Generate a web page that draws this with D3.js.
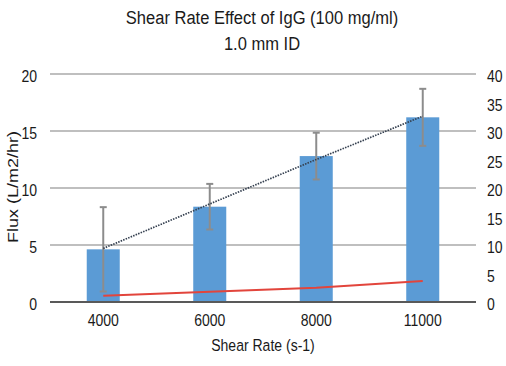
<!DOCTYPE html>
<html><head><meta charset="utf-8">
<script src="https://cdn.jsdelivr.net/npm/d3@7"></script>
<style>
html,body{margin:0;padding:0;background:#fff;}
text{font-family:"Liberation Sans",Arial,sans-serif;fill:#1a1a1a;}
</style></head>
<body><svg id="c" width="506" height="366"></svg>
<script>
const categories = ["4000", "6000", "8000", "11000"];
const flux = [4.62, 8.36, 12.8, 16.2];
const fluxErr = [3.7, 2.0, 2.05, 2.5];
const trend = [4.7, 8.6, 12.5, 16.3];
const secondary = [1.1, 1.8, 2.5, 3.7];
const leftTicks = [0, 5, 10, 15, 20];
const rightTicks = [0, 5, 10, 15, 20, 25, 30, 35, 40];
const titleLines = ["Shear Rate Effect of IgG (100 mg/ml)", "1.0 mm ID"];

const svg = d3.select("#c");
const L = 50, R = 476, T = 74, B = 302;
const x = d3.scaleBand().domain(categories).range([L, R]).paddingInner(0.69).paddingOuter(0.345);
const y = d3.scaleLinear().domain([0, 20]).range([B, T]);
const y2 = d3.scaleLinear().domain([0, 40]).range([B, T]);
const cx = c => x(c) + x.bandwidth() / 2;
const SX = 0.85;
const FONT = "Liberation Sans, Arial, sans-serif";

// gridlines
svg.append("g").selectAll("line").data(leftTicks.filter(d => d > 0)).join("line")
  .attr("x1", L).attr("x2", R).attr("y1", d => y(d)).attr("y2", d => y(d))
  .attr("stroke", "#bfbfbf").attr("stroke-width", 2);

// bars
svg.append("g").selectAll("rect").data(flux).join("rect")
  .attr("x", (d, i) => x(categories[i])).attr("width", x.bandwidth())
  .attr("y", d => y(d)).attr("height", d => y(0) - y(d))
  .attr("fill", "#5b9bd5");

// zero axis line
svg.append("line").attr("x1", L).attr("x2", R).attr("y1", y(0)).attr("y2", y(0))
  .attr("stroke", "#595959").attr("stroke-width", 2);

// error bars
const eg = svg.append("g").attr("stroke", "#8c8c8c").attr("stroke-width", 2);
flux.forEach((v, i) => {
  const xc = cx(categories[i]);
  const hi = y(v + fluxErr[i]), lo = y(v - fluxErr[i]);
  eg.append("line").attr("x1", xc).attr("x2", xc).attr("y1", hi).attr("y2", lo);
  eg.append("line").attr("x1", xc - 3.5).attr("x2", xc + 3.5).attr("y1", hi).attr("y2", hi);
  eg.append("line").attr("x1", xc - 3.5).attr("x2", xc + 3.5).attr("y1", lo).attr("y2", lo);
});

// dotted trend line
svg.append("path").datum(trend)
  .attr("d", d3.line().x((d, i) => cx(categories[i])).y(d => y(d)))
  .attr("fill", "none").attr("stroke", "#354050").attr("stroke-width", 1.7)
  .attr("stroke-dasharray", "1.5,1.2");

// secondary red line
svg.append("path").datum(secondary)
  .attr("d", d3.line().x((d, i) => cx(categories[i])).y(d => y2(d)))
  .attr("fill", "none").attr("stroke", "#e2453c").attr("stroke-width", 2);

// left axis
const ga = svg.append("g").attr("transform", `translate(${L},0)`)
  .call(d3.axisLeft(y).tickValues(leftTicks).tickSize(0).tickFormat(d3.format("d")));
ga.select(".domain").remove();
ga.selectAll("text").attr("x", 0).attr("dy", "0.48em")
  .attr("transform", `translate(-13,0) scale(${SX},1)`)
  .style("font-size", "16.5px").style("fill", "#1a1a1a").style("font-family", FONT);

// right axis
const gr = svg.append("g").attr("transform", `translate(${R},0)`)
  .call(d3.axisRight(y2).tickValues(rightTicks).tickSize(0).tickFormat(d3.format("d")));
gr.select(".domain").remove();
gr.selectAll("text").attr("x", 0).attr("dy", "0.48em")
  .attr("transform", `translate(11,0) scale(${SX},1)`)
  .style("font-size", "16.5px").style("fill", "#1a1a1a").style("font-family", FONT);

// bottom axis
const gb = svg.append("g").attr("transform", `translate(0,${B})`)
  .call(d3.axisBottom(x).tickSize(0));
gb.select(".domain").remove();
gb.selectAll("text").attr("y", 0).attr("dy", 0)
  .attr("transform", `translate(0,23.5) scale(${SX},1)`)
  .style("font-size", "16.5px").style("fill", "#1a1a1a").style("font-family", FONT);

// axis titles
svg.append("text").attr("text-anchor", "middle")
  .attr("transform", `translate(${(L + R) / 2},351) scale(${SX},1)`)
  .style("font-size", "16.5px").text("Shear Rate (s-1)");
svg.append("text").attr("text-anchor", "middle")
  .attr("transform", `translate(17.5,187) rotate(-90) scale(1,0.82)`)
  .style("font-size", "18px").text("Flux (L/m2/hr)");

// title
svg.selectAll(".title").data(titleLines).join("text").attr("class", "title")
  .attr("text-anchor", "middle")
  .attr("transform", (d, i) => `translate(262,${i === 0 ? 24 : 50}) scale(0.87,1)`)
  .style("font-size", "19px").text(d => d);
</script></body></html>
